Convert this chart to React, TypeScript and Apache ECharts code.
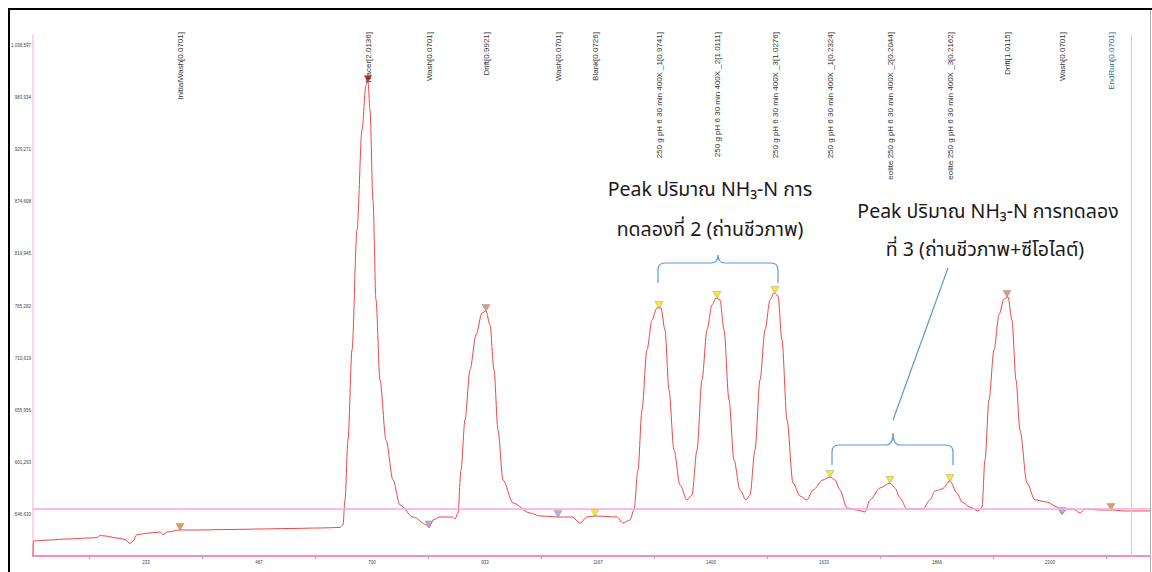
import React, { useEffect, useRef } from "react";
import * as echarts from "echarts";

// ---- data ----
const timeSec = [
  0, 1, 35.1, 70.2, 117.7, 132.2, 138.4, 148.7, 173.4, 189.9, 200.3, 206.5, 214.7, 241.6, 262.2, 268.4, 276.7,
  303.5, 344.8, 406.8, 468.7, 530.6, 592.6, 633.9, 640.1, 644.2, 650.4, 658.7, 669.0, 679.3, 687.6, 691.7, 695.8,
  702.0, 708.2, 716.5, 728.9, 743.3, 757.8, 784.6, 813.5, 817.7, 825.9, 840.4, 865.2, 871.3, 877.5, 883.7, 892.0,
  902.3, 914.7, 927.1, 935.3, 943.6, 951.9, 960.1, 970.5, 991.1, 1026.2, 1046.9, 1084.0, 1113.0, 1129.4, 1143.9,
  1160.4, 1205.8, 1218.2, 1232.7, 1240.9, 1249.2, 1257.4, 1267.7, 1278.1, 1288.4, 1296.7, 1304.9, 1313.2, 1323.5,
  1335.9, 1350.4, 1360.7, 1371.0, 1381.3, 1391.7, 1402.0, 1410.3, 1418.5, 1426.8, 1437.1, 1447.4, 1459.8, 1472.2,
  1480.5, 1490.8, 1501.1, 1511.5, 1521.8, 1530.0, 1538.3, 1546.5, 1556.9, 1569.2, 1583.7, 1598.2, 1610.5, 1631.2,
  1645.6, 1655.9, 1666.3, 1680.7, 1701.4, 1717.9, 1728.2, 1748.9, 1769.5, 1779.8, 1790.2, 1804.6, 1837.7, 1852.1,
  1862.5, 1876.9, 1893.5, 1907.9, 1918.2, 1934.7, 1951.2, 1959.5, 1965.7, 1973.9, 1984.3, 1994.6, 2004.9, 2013.2,
  2021.4, 2029.7, 2037.9, 2052.4, 2068.9, 2093.7, 2114.4, 2124.7, 2135.0, 2147.4, 2161.9, 2172.2, 2203.2, 2230.0,
  2250.6, 2306.4,
];
const signal = [
  503703, 519408, 520455, 521502, 522549, 523073, 525167, 524643, 522549, 520979, 516791, 519408, 526177, 527784,
  528831, 526177, 528831, 530925, 530925, 531449, 531972, 532496, 533019, 533543, 536160, 562335, 625155, 719385,
  845025, 949725, 996840, 999981, 970665, 876435, 771735, 687975, 625155, 583275, 557100, 544536, 536160, 533543,
  541395, 544536, 544536, 542442, 548724, 593745, 646095, 698445, 735090, 758124, 760218, 745560, 698445, 635625,
  583275, 559194, 548724, 545583, 544536, 544536, 538254, 544536, 545583, 544536, 538254, 541395, 551865, 593745,
  656565, 719385, 750795, 763359, 763359, 740325, 677505, 614685, 578040, 562335, 567570, 614685, 687975, 740325,
  766500, 773829, 771735, 740325, 667035, 604215, 572805, 562335, 567570, 614685, 687975, 740325, 771735, 779064,
  775923, 729855, 646095, 580134, 566523, 562335, 572805, 583275, 586416, 583275, 572805, 553959, 551865, 549771,
  562335, 574899, 580134, 574899, 564429, 552912, 552912, 562335, 571758, 573852, 582228, 569664, 560241, 555006,
  550818, 555006, 604215, 667035, 719385, 756030, 772782, 774876, 750795, 687975, 635625, 580134, 562335, 560241,
  555006, 547677, 552912, 552912, 548724, 552912, 551865, 551865, 550818, 550818,
];

const eventNames = [
  "InitialWash[0.0701]",
  "Tracer[2.0136]",
  "Wash[0.0701]",
  "Drift[0.9921]",
  "Wash[0.0701]",
  "Blank[0.0726]",
  "250 g pH 6 30 min 400X _1[0.9741]",
  "250 g pH 6 30 min 400X _2[1.0111]",
  "250 g pH 6 30 min 400X _3[1.0276]",
  "250 g pH 6 30 min 400X _1[0.2324]",
  "eolite 250 g pH 6 30 min 400X _2[0.2044]",
  "eolite 250 g pH 6 30 min 400X _3[0.2162]",
  "Drift[1.0115]",
  "Wash[0.0701]",
  "EndRun[0.0701]",
];
const eventKinds = [
  "start", "tracer", "wash", "drift", "wash", "blank", "sample", "sample", "sample",
  "sample", "sample", "sample", "drift", "wash", "end",
];
const eventX = [303.5, 691.7, 817.7, 935.3, 1084.0, 1160.4, 1292.5, 1412.3, 1532.1, 1645.6, 1769.5, 1893.5, 2011.1, 2124.7, 2225.9];
const eventY = [530925, 999981, 533543, 760218, 544536, 545583, 763359, 773829, 779064, 586416, 580134, 582228, 774876, 547677, 551865];

const yTickValues = [546630, 601293, 655956, 710619, 765282, 819945, 874608, 929271, 983934, 1038597];
const xLabelValues = [233.33, 466.67, 700, 933.33, 1166.67, 1400, 1633.33, 1866.67, 2100];
const xLabelTexts = ["233", "467", "700", "933", "1167", "1400", "1633", "1866", "2100"];
const xTickValues = [116.67, 350, 583.33, 816.67, 1050, 1283.33, 1516.67, 1750, 1983.33, 2216.67];
const baselineValue = 552912;
const runEndX = 2267;

const annotation2 = ["Peak ปริมาณ NH₃-N การ", "ทดลองที่ 2 (ถ่านชีวภาพ)"];
const annotation3 = ["Peak ปริมาณ NH₃-N การทดลอง", "ที่ 3 (ถ่านชีวภาพ+ซีโอไลต์)"];

// ---- styles ----
const kindColor: Record<string, string> = {
  start: "#d4862e",
  tracer: "#a80000",
  wash: "#9d9dd0",
  drift: "#d47f62",
  blank: "#f2e600",
  sample: "#f2e600",
  end: "#d4862e",
};

echarts.graphic.registerShape(
  "brace1",
  echarts.graphic.extendPath(
    "M658,283 L658,270 Q658,263 665,263 L711,263 Q718,263 718,255 Q718,263 725,263 L771,263 Q778,263 778,270 L778,283",
    {}
  )
);
echarts.graphic.registerShape(
  "brace2",
  echarts.graphic.extendPath(
    "M832,465 L832,452 Q832,445 839,445 L886,445 Q893,445 893,433 Q893,445 900,445 L946,445 Q953,445 953,452 L953,465",
    {}
  )
);

export default function App() {
  const ref = useRef<HTMLDivElement>(null);
  useEffect(() => {
    const el = ref.current!;
    const chart = echarts.init(el, null, { renderer: "svg" });
    const option: any = {
      animation: false,
      backgroundColor: "#ffffff",
      grid: { left: 33, right: 2, top: 35, bottom: 16, containLabel: false },
      xAxis: {
        type: "value",
        min: 0,
        max: 2306.4,
        axisLine: { show: true, lineStyle: { color: "#f590c0", width: 2 } },
        axisTick: { show: true, customValues: xTickValues, length: 3, lineStyle: { color: "#aaaaaa", width: 1 } },
        axisLabel: {
          show: true,
          customValues: xLabelValues,
          formatter: (v: number) => {
            let best = 0;
            xLabelValues.forEach((x, i) => {
              if (Math.abs(x - v) < Math.abs(xLabelValues[best] - v)) best = i;
            });
            return xLabelTexts[best];
          },
          fontSize: 4.5,
          color: "#444",
          margin: 4,
          fontFamily: "Liberation Sans",
        },
        splitLine: { show: false },
      },
      yAxis: {
        type: "value",
        min: 503700,
        max: 1049070,
        axisLine: { show: true, lineStyle: { color: "#ffc4e4", width: 1.5 } },
        axisTick: { show: false },
        axisLabel: {
          show: true,
          customValues: yTickValues,
          formatter: (v: number) => Math.round(v).toLocaleString("en-US"),
          fontSize: 4.5,
          color: "#444",
          margin: 2,
          fontFamily: "Liberation Sans",
        },
        splitLine: { show: false },
      },
      series: [
        {
          type: "line",
          name: "signal",
          data: timeSec.map((t, i) => [t, signal[i]]),
          symbol: "none",
          smooth: 0.3,
          smoothMonotone: "x",
          silent: true,
          lineStyle: { color: "#f04646", width: 1 },
          markLine: {
            silent: true,
            symbol: "none",
            label: { show: false },
            data: [
              { yAxis: baselineValue, lineStyle: { color: "#f7a6ee", width: 1.5, type: "solid" } },
              { xAxis: runEndX, lineStyle: { color: "#fbb3f0", width: 1, type: "solid" } },
            ],
          },
          z: 2,
        },
        {
          type: "scatter",
          name: "events",
          silent: true,
          symbol: "triangle",
          symbolRotate: 180,
          symbolSize: [8, 7],
          symbolOffset: [0, -3],
          data: eventX.map((x, i) => ({
            value: [x, eventY[i]],
            itemStyle: { color: kindColor[eventKinds[i]], borderColor: "#8a8a8a", borderWidth: 0.5 },
          })),
          z: 3,
        },
      ],
    };
    chart.setOption(option);

    const labelEls = eventNames.map((name, i) => {
      const p = chart.convertToPixel({ gridIndex: 0 }, [eventX[i], 1000000]) as number[];
      return {
        type: "text",
        x: Math.round(p[0]) + 0.5,
        y: 32,
        rotation: Math.PI / 2,
        silent: true,
        style: {
          text: name,
          fill: eventKinds[i] === "end" ? "#2b6f75" : "#333333",
          fontSize: 8,
          fontFamily: "Liberation Sans",
          align: "right",
          verticalAlign: "middle",
          textAlign: "right",
          textVerticalAlign: "middle",
        },
      };
    });

    const thaiFont = "'Noto Sans Thai', 'Noto Sans', sans-serif";
    const annoText = (x: number, y: number, text: string) => ({
      type: "text",
      x,
      y,
      silent: true,
      style: {
        text,
        fill: "#1a1a1a",
        fontSize: 19.5,
        fontFamily: thaiFont,
        align: "center",
        verticalAlign: "middle",
        textAlign: "center",
        textVerticalAlign: "middle",
      },
    });

    const graphics: any[] = [
      { type: "rect", silent: true, shape: { x: 8, y: 8, width: 1144, height: 2 }, style: { fill: "#000" } },
      { type: "rect", silent: true, shape: { x: 8, y: 8, width: 2, height: 564 }, style: { fill: "#000" } },
      { type: "rect", silent: true, shape: { x: 1150, y: 10, width: 1, height: 562 }, style: { fill: "#b0b0b0" } },
      ...labelEls,
      annoText(710, 190, annotation2[0]),
      annoText(710, 230, annotation2[1]),
      annoText(988, 212, annotation3[0]),
      annoText(985, 250, annotation3[1]),
      { type: "brace1", silent: true, style: { stroke: "#5b9bd5", fill: "none", lineWidth: 1.2 } },
      { type: "brace2", silent: true, style: { stroke: "#5b9bd5", fill: "none", lineWidth: 1.2 } },
      {
        type: "line",
        silent: true,
        shape: { x1: 893, y1: 420, x2: 948, y2: 268 },
        style: { stroke: "#5b9bd5", lineWidth: 1.2 },
      },
    ];
    chart.setOption({ graphic: graphics });

    return () => chart.dispose();
  }, []);
  return <div ref={ref} style={{ position: "fixed", left: 0, top: 0, width: 1152, height: 572 }} />;
}
